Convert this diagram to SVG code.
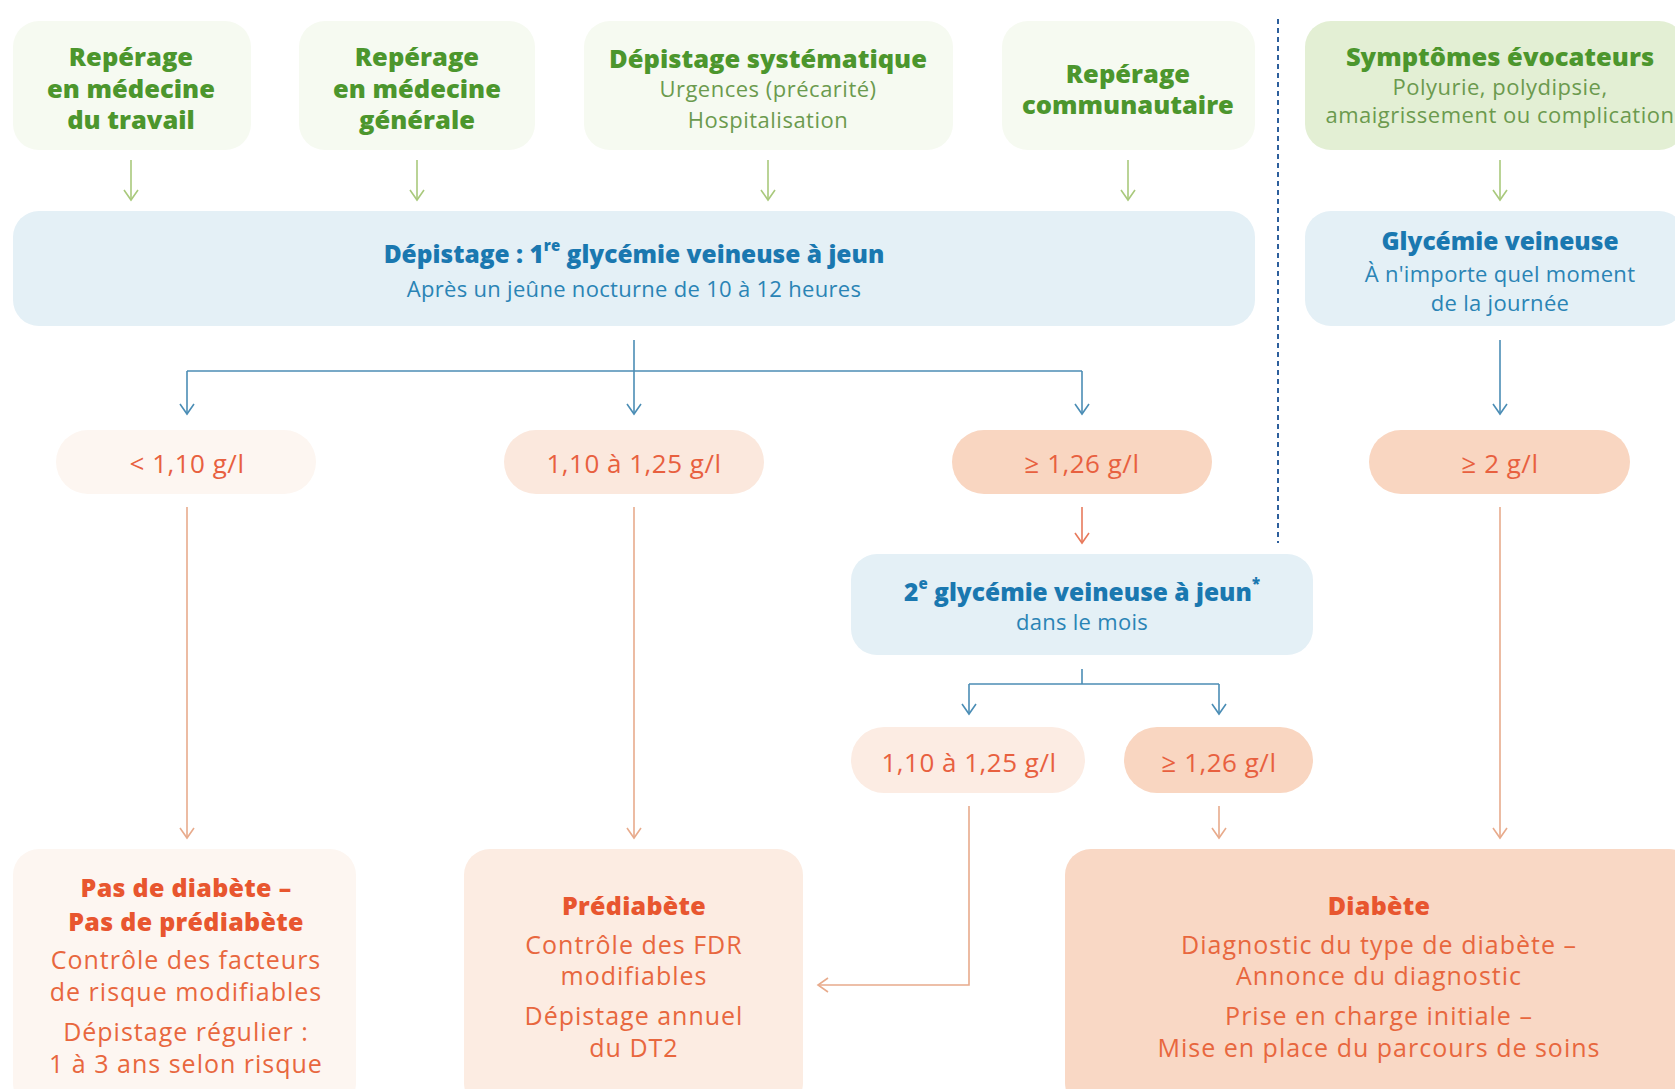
<svg xmlns="http://www.w3.org/2000/svg" width="1675" height="1089" viewBox="0 0 1675 1089">
<defs>
<style>
text{font-family:"Open Sans","Liberation Sans",sans-serif;text-anchor:middle;dominant-baseline:central}
.gt{fill:#4c962d;font-weight:800;font-size:25.5px}
.gs{fill:#6b9a4e;font-size:22px;letter-spacing:0.5px}
.bt{fill:#1a78b0;font-weight:800;font-size:24.5px}
.bs{fill:#2a84b5;font-size:22px;letter-spacing:0.3px}
.pv{fill:#e8603f;font-size:26px;letter-spacing:0.5px}
.ot{fill:#e8562f;font-weight:800;font-size:25px;letter-spacing:0.3px}
.os{fill:#e8673e;font-size:25px;letter-spacing:1px}
.ln{fill:none;stroke-width:1.6}
.g{stroke:#a9c97c}
.b{stroke:#4b8db5}
.o{stroke:#e8ab8c}
.r{stroke:#e87a5c}
</style>
<marker id="mg" markerUnits="userSpaceOnUse" markerWidth="20" markerHeight="20" orient="auto" overflow="visible"><path d="M-10,-7 L0,0 L-10,7" fill="none" stroke="#a9c97c" stroke-width="1.6"/></marker>
<marker id="mb" markerUnits="userSpaceOnUse" markerWidth="20" markerHeight="20" orient="auto" overflow="visible"><path d="M-10,-7 L0,0 L-10,7" fill="none" stroke="#4b8db5" stroke-width="1.6"/></marker>
<marker id="mo" markerUnits="userSpaceOnUse" markerWidth="20" markerHeight="20" orient="auto" overflow="visible"><path d="M-10,-7 L0,0 L-10,7" fill="none" stroke="#e8ab8c" stroke-width="1.6"/></marker>
<marker id="mr" markerUnits="userSpaceOnUse" markerWidth="20" markerHeight="20" orient="auto" overflow="visible"><path d="M-10,-7 L0,0 L-10,7" fill="none" stroke="#e87a5c" stroke-width="1.6"/></marker>
</defs>
<rect width="1675" height="1089" fill="#ffffff"/>

<g id="sep"><line x1="1278" y1="19" x2="1278" y2="543" stroke="#2d5f9c" stroke-width="2" stroke-dasharray="5,4"/></g>

<g id="n-travail"><rect x="13" y="21" width="238" height="129" rx="26" fill="#f6faf1"/>
<text class="gt" x="131" y="56">Repérage</text><text class="gt" x="131" y="88">en médecine</text><text class="gt" x="131" y="119">du travail</text></g>
<g id="n-generale"><rect x="299" y="21" width="236" height="129" rx="26" fill="#f6faf1"/>
<text class="gt" x="417" y="56">Repérage</text><text class="gt" x="417" y="88">en médecine</text><text class="gt" x="417" y="119">générale</text></g>
<g id="n-systematique"><rect x="584" y="21" width="369" height="129" rx="26" fill="#f6faf1"/>
<text class="gt" x="768" y="58">Dépistage systématique</text><text class="gs" x="768" y="88">Urgences (précarité)</text><text class="gs" x="768" y="119">Hospitalisation</text></g>
<g id="n-communautaire"><rect x="1002" y="21" width="253" height="129" rx="26" fill="#f6faf1"/>
<text class="gt" x="1128" y="73">Repérage</text><text class="gt" x="1128" y="104">communautaire</text></g>
<g id="n-symptomes"><rect x="1305" y="21" width="380" height="129" rx="26" fill="#e3efd4"/>
<text class="gt" x="1500" y="56" font-size="25">Symptômes évocateurs</text><text class="gs" x="1500" y="86">Polyurie, polydipsie,</text><text class="gs" x="1500" y="114">amaigrissement ou complication</text></g>

<g id="n-depistage"><rect x="13" y="211" width="1242" height="115" rx="26" fill="#e4f0f6"/>
<text class="bt" x="634" y="253">Dépistage : 1<tspan font-size="15" dy="-8">re</tspan><tspan dy="8"> glycémie veineuse à jeun</tspan></text>
<text class="bs" x="634" y="288">Après un jeûne nocturne de 10 à 12 heures</text></g>
<g id="n-glycemie"><rect x="1305" y="211" width="380" height="115" rx="26" fill="#e4f0f6"/>
<text class="bt" x="1500" y="240">Glycémie veineuse</text><text class="bs" x="1500" y="273">À n'importe quel moment</text><text class="bs" x="1500" y="302">de la journée</text></g>

<g id="n-lt110"><rect x="56" y="430" width="260" height="64" rx="32" fill="#fdf6f1"/><text class="pv" x="187" y="463">&lt; 1,10 g/l</text></g>
<g id="n-110-125"><rect x="504" y="430" width="260" height="64" rx="32" fill="#fbe8dd"/><text class="pv" x="634" y="463">1,10 à 1,25 g/l</text></g>
<g id="n-ge126"><rect x="952" y="430" width="260" height="64" rx="32" fill="#f9d6c1"/><text class="pv" x="1082" y="463">≥ 1,26 g/l</text></g>
<g id="n-ge2"><rect x="1369" y="430" width="261" height="64" rx="32" fill="#f9d6c1"/><text class="pv" x="1500" y="463">≥ 2 g/l</text></g>

<g id="n-2e"><rect x="851" y="554" width="462" height="101" rx="26" fill="#e4f0f6"/>
<text class="bt" x="1082" y="591">2<tspan font-size="15" dy="-8">e</tspan><tspan dy="8"> glycémie veineuse à jeun</tspan><tspan font-size="15" dy="-8">*</tspan></text>
<text class="bs" x="1082" y="621">dans le mois</text></g>

<g id="n-110-125b"><rect x="851" y="727" width="234" height="66" rx="33" fill="#fcece3"/><text class="pv" x="969" y="762">1,10 à 1,25 g/l</text></g>
<g id="n-ge126b"><rect x="1124" y="727" width="189" height="66" rx="33" fill="#f9d6c1"/><text class="pv" x="1219" y="762">≥ 1,26 g/l</text></g>

<g id="n-pasdiabete"><rect x="13" y="849" width="343" height="260" rx="26" fill="#fdf6f1"/>
<text class="ot" x="186" y="887">Pas de diabète –</text><text class="ot" x="186" y="921">Pas de prédiabète</text>
<text class="os" x="186" y="959">Contrôle des facteurs</text><text class="os" x="186" y="991">de risque modifiables</text>
<text class="os" x="186" y="1031">Dépistage régulier :</text><text class="os" x="186" y="1063">1 à 3 ans selon risque</text></g>
<g id="n-prediabete"><rect x="464" y="849" width="339" height="260" rx="26" fill="#fcece2"/>
<text class="ot" x="634" y="905">Prédiabète</text>
<text class="os" x="634" y="944">Contrôle des FDR</text><text class="os" x="634" y="975">modifiables</text>
<text class="os" x="634" y="1015">Dépistage annuel</text><text class="os" x="634" y="1047">du DT2</text></g>
<g id="n-diabete"><rect x="1065" y="849" width="630" height="260" rx="26" fill="#f9d8c5"/>
<text class="ot" x="1379" y="905">Diabète</text>
<text class="os" x="1379" y="944">Diagnostic du type de diabète –</text><text class="os" x="1379" y="975">Annonce du diagnostic</text>
<text class="os" x="1379" y="1015">Prise en charge initiale –</text><text class="os" x="1379" y="1047">Mise en place du parcours de soins</text></g>

<g id="connectors">
<line class="ln g" x1="131" y1="160" x2="131" y2="200" marker-end="url(#mg)"/>
<line class="ln g" x1="417" y1="160" x2="417" y2="200" marker-end="url(#mg)"/>
<line class="ln g" x1="768" y1="160" x2="768" y2="200" marker-end="url(#mg)"/>
<line class="ln g" x1="1128" y1="160" x2="1128" y2="200" marker-end="url(#mg)"/>
<line class="ln g" x1="1500" y1="160" x2="1500" y2="200" marker-end="url(#mg)"/>
<line class="ln b" x1="634" y1="340" x2="634" y2="414" marker-end="url(#mb)"/>
<polyline class="ln b" points="187,371 1082,371"/>
<polyline class="ln b" points="187,371 187,414" marker-end="url(#mb)"/>
<polyline class="ln b" points="1082,371 1082,414" marker-end="url(#mb)"/>
<line class="ln b" x1="1500" y1="340" x2="1500" y2="414" marker-end="url(#mb)"/>
<line class="ln o" x1="187" y1="507" x2="187" y2="838" marker-end="url(#mo)"/>
<line class="ln o" x1="634" y1="507" x2="634" y2="838" marker-end="url(#mo)"/>
<line class="ln o" x1="1500" y1="507" x2="1500" y2="838" marker-end="url(#mo)"/>
<line class="ln r" x1="1082" y1="507" x2="1082" y2="543" marker-end="url(#mr)"/>
<line class="ln b" x1="1082" y1="669" x2="1082" y2="684"/>
<polyline class="ln b" points="969,684 1219,684"/>
<polyline class="ln b" points="969,684 969,714" marker-end="url(#mb)"/>
<polyline class="ln b" points="1219,684 1219,714" marker-end="url(#mb)"/>
<polyline class="ln o" points="969,806 969,985 818,985" marker-end="url(#mo)"/>
<line class="ln o" x1="1219" y1="806" x2="1219" y2="838" marker-end="url(#mo)"/>
</g>
</svg>
